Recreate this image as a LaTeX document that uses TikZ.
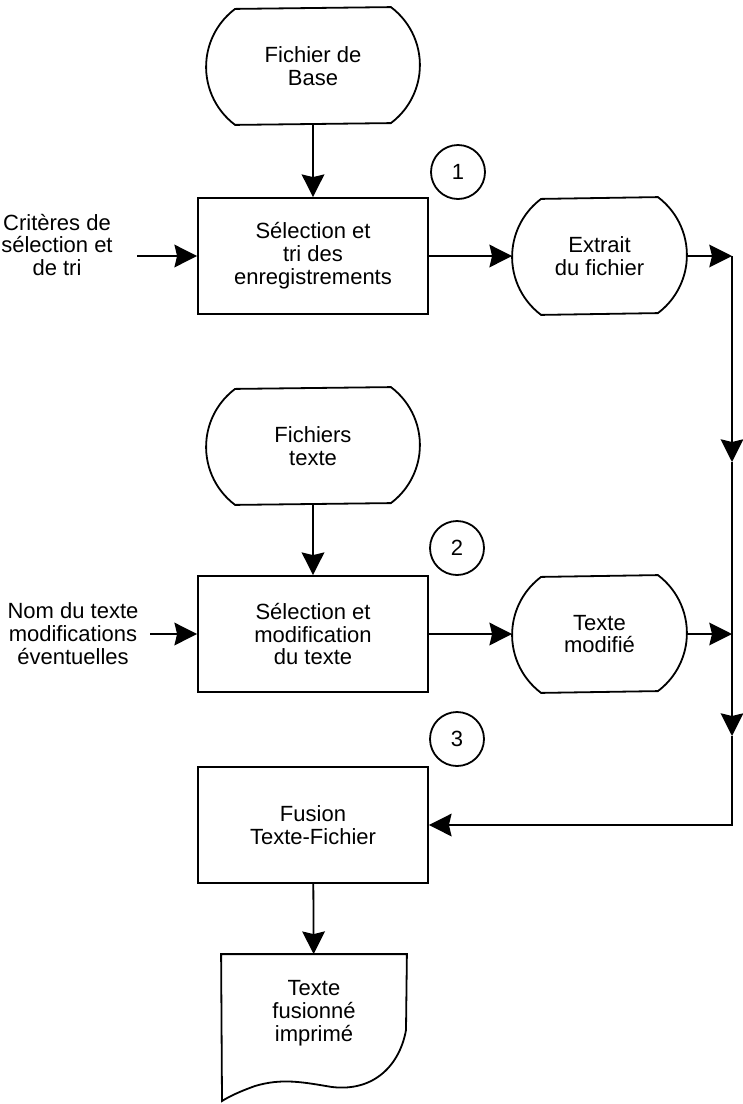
\documentclass[tikz,border=0pt]{standalone}
\usepackage{fontspec}
\setmainfont{Liberation Sans}
\usetikzlibrary{arrows.meta,calc}
\newcommand\termshape[1]{\draw ([xshift=-21.75pt]#1.north east) arc[start angle=53.13, end angle=-53.13, radius=54.375pt] -- ([xshift=21.75pt]#1.south west) arc[start angle=233.13, end angle=126.87, radius=54.375pt] -- cycle;}
\begin{document}
\begin{tikzpicture}[x=0.75pt,y=-0.75pt, line width=1.35pt,
  every node/.style={font=\fontsize{16.5}{17.2}\selectfont, align=center},
  proc/.style={draw, rectangle, minimum width=172.5pt, minimum height=87pt, inner sep=0pt},
  term/.style={minimum width=#1, minimum height=87pt, inner sep=0pt},
  num/.style={draw, circle, minimum size=40.5pt, inner sep=0pt},
  arr/.style={-{Stealth[length=17pt,width=17pt,inset=2pt]}},
]
\useasboundingbox (0,0) rectangle (743,1104);

% nodes
\node[term=159pt] (fb) at (313,66) {Fichier de\\Base};
\termshape{fb}
\node[num] (n1) at (458,172) {1};
\node[proc] (p1) at (313,256) {Sélection et\\tri des\\enregistrements};
\node (crit) at (57,245) {Critères de\\sélection et\\de tri};
\node[term=129.75pt] (ext) at (599.5,256) {Extrait\\du fichier};
\termshape{ext}

\node[term=159pt] (ft) at (313,446) {Fichiers\\texte};
\termshape{ft}
\node[num] (n2) at (457,548) {2};
\node[proc] (p2) at (313,634) {Sélection et\\modification\\du texte};
\node (nom) at (73,634) {Nom du texte\\modifications\\éventuelles};
\node[term=129.75pt] (tm) at (599.5,634) {Texte\\modifié};
\termshape{tm}

\node[num] (n3) at (457,739) {3};
\node[proc] (p3) at (313,825) {Fusion\\Texte-Fichier};
\node[minimum width=138pt, minimum height=87pt, inner sep=0pt] (doc) at (314,1013) {Texte\\fusionné\\imprimé};
\draw (doc.north west) -- (doc.north east) -- (406,1030)
  .. controls (400,1064) and (375,1092) .. (332,1087)
  .. controls (302,1082) and (282,1078) .. (255,1086)
  .. controls (241,1091) and (230,1096) .. (222,1101) -- cycle;

% coordinates
\coordinate (a1) at (137,256);
\coordinate (a2) at (150,634);
\coordinate (c1) at (732,256);
\coordinate (m1) at (732,462);
\coordinate (c2) at (732,634);
\coordinate (m2) at (732,736);
\coordinate (c3) at (732,825);

% connectors
\draw[arr] (fb) -- (p1);
\draw[arr] (a1) -- (p1.west);
\draw[arr] (p1) -- (ext);
\draw[arr] (ext.east) -- (c1);
\draw[arr] (ft) -- (p2);
\draw[arr] (a2) -- (p2.west);
\draw[arr] (p2) -- (tm);
\draw[arr] (tm.east) -- (c2);
\draw[arr] (c1) -- (m1);
\draw[arr] (m1) -- (c2) -- (m2);
\draw[arr] (m2) -- (c3) -- (p3.east);
\draw[arr] (p3) -- (doc);
\end{tikzpicture}
\end{document}
